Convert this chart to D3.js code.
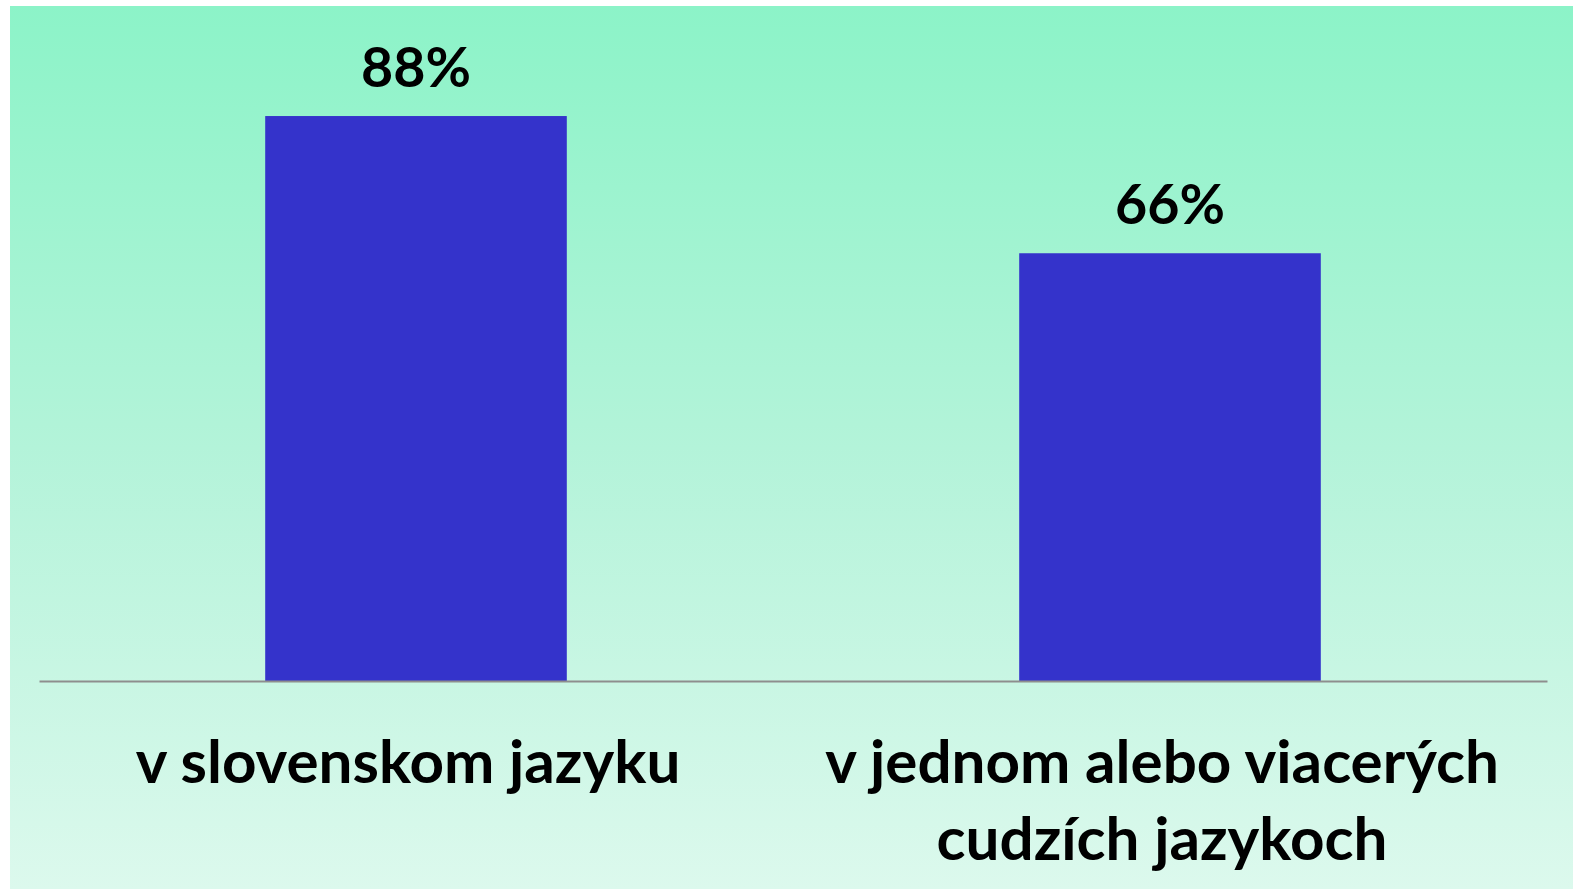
<!DOCTYPE html>
<html>
<head>
<meta charset="utf-8">
<script src="https://cdn.jsdelivr.net/npm/d3@7"></script>
<style>
html,body{margin:0;padding:0;background:#fff;}
svg{display:block;}
</style>
</head>
<body>
<svg id="chart" width="1573" height="889"></svg>
<script>
const categories = ["v slovenskom jazyku", "v jednom alebo viacerých cudzích jazykoch"];
const categoryLines = [["v slovenskom jazyku"], ["v jednom alebo viacerých", "cudzích jazykoch"]];
const values = [0.877, 0.664];
const valueLabels = ["88%", "66%"];

const W = 1573, H = 889;
const svg = d3.select("#chart");
const defs = svg.append("defs");
const grad = defs.append("linearGradient").attr("id", "bg").attr("x1", 0).attr("y1", 0).attr("x2", 0).attr("y2", 1);
grad.append("stop").attr("offset", "0%").attr("stop-color", "#8cf3c8");
grad.append("stop").attr("offset", "50%").attr("stop-color", "#b3f3d9");
grad.append("stop").attr("offset", "100%").attr("stop-color", "#dcf9ed");

svg.append("rect").attr("x", 10).attr("y", 6).attr("width", W - 10).attr("height", H - 6).attr("fill", "url(#bg)");

const x = d3.scaleBand().domain(categories).range([39, 1547]).paddingInner(0.6).paddingOuter(0.3);
const y = d3.scaleLinear().domain([0, 1]).range([681, 36.8]);

const font = "Lato, 'Open Sans', sans-serif";

svg.append("g").selectAll("rect").data(values).join("rect")
  .attr("x", (d, i) => x(categories[i]))
  .attr("y", d => y(d))
  .attr("width", x.bandwidth())
  .attr("height", d => y(0) - y(d))
  .attr("fill", "#3433cb");

// axis line
const axis = svg.append("g").attr("transform", `translate(0,${y(0)})`)
  .call(d3.axisBottom(x).tickSize(0).tickFormat(""));
axis.select(".domain").attr("stroke", "#8e8e8e").attr("stroke-width", 2);

// value labels
const vl = svg.append("g").selectAll("text").data(values).join("text")
  .attr("x", (d, i) => x(categories[i]) + x.bandwidth() / 2)
  .attr("y", d => y(d) - 29)
  .attr("text-anchor", "middle")
  .attr("font-family", font).attr("font-weight", "bold")
  .attr("font-size", 60).attr("fill", "#000")
  .text((d, i) => valueLabels[i]);
// fit value label size to reference width
{
  const w = vl.node().getComputedTextLength();
  vl.attr("font-size", 60 * 110 / w);
}

// category labels
const cg = svg.append("g");
const ct = cg.selectAll("text").data(categoryLines).join("text")
  .attr("x", (d, i) => x(categories[i]) + x.bandwidth() / 2 - 8)
  .attr("y", 783)
  .attr("text-anchor", "middle")
  .attr("font-family", font).attr("font-weight", "bold")
  .attr("font-size", 60).attr("fill", "#000");
ct.selectAll("tspan").data(d => d).join("tspan")
  .attr("x", function() { return this.parentNode.getAttribute("x"); })
  .attr("dy", (d, j) => j === 0 ? 0 : 77)
  .text(d => d);
{
  const t = ct.filter((d, i) => i === 1).select("tspan").node();
  const w = t.getComputedTextLength();
  ct.attr("font-size", 60 * 674 / w);
}
</script>
</body>
</html>
